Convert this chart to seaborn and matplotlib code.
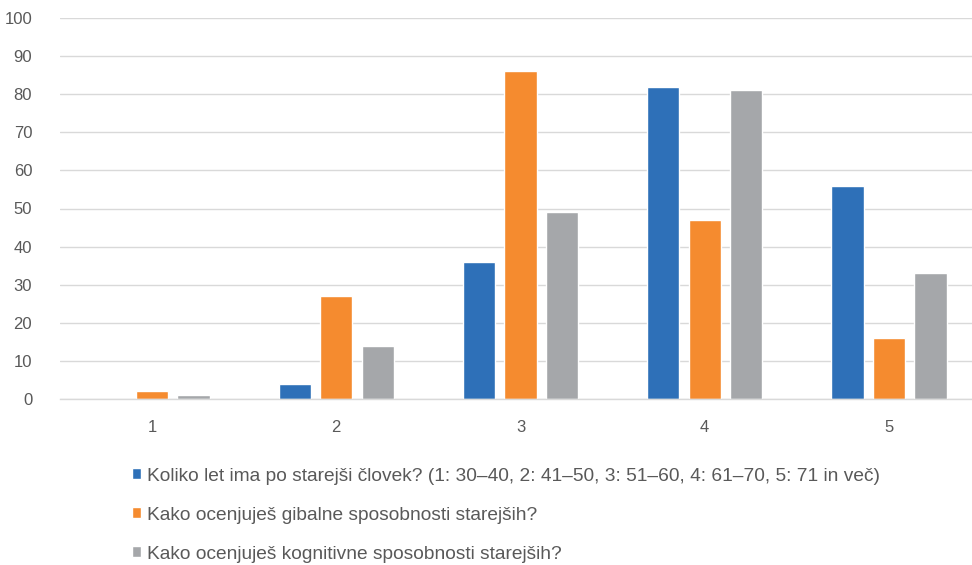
import matplotlib
matplotlib.use("Agg")
import matplotlib.pyplot as plt
import seaborn as sns
import pandas as pd

categories = ["1", "2", "3", "4", "5"]
series_names = [
    "Koliko let ima po starejši človek? (1: 30–40, 2: 41–50, 3: 51–60, 4: 61–70, 5: 71 in več)",
    "Kako ocenjuješ gibalne sposobnosti starejših?",
    "Kako ocenjuješ kognitivne sposobnosti starejših?",
]
age_values = [0, 4, 36, 82, 56]
motor_values = [2, 27, 86, 47, 16]
cognitive_values = [1, 14, 49, 81, 33]
colors = ["#2E70B8", "#F58B2F", "#A5A7AA"]

rows = []
for name, vals in zip(series_names, [age_values, motor_values, cognitive_values]):
    for c, v in zip(categories, vals):
        rows.append({"cat": c, "series": name, "value": v})
df = pd.DataFrame(rows)

sns.set_theme(style="white")
plt.rcParams["font.family"] = ["Liberation Sans", "DejaVu Sans"]

fig = plt.figure(figsize=(9.72, 5.65), dpi=100)
ax = fig.add_axes([60/972, 1-399/565, 921/972, 381/565])

sns.barplot(data=df, x="cat", y="value", hue="series", palette=colors,
            width=0.675, gap=0.22, ax=ax, legend=True, saturation=1)

ax.set_ylim(0, 100)
ax.set_xlim(-0.5, 4.5)
ax.set_yticks(range(0, 101, 10))
ax.yaxis.grid(True, color="#D9D9D9", linewidth=1)
ax.set_axisbelow(True)
for s in ["top", "right", "left"]:
    ax.spines[s].set_visible(False)
ax.spines["bottom"].set_color("#D9D9D9")
ax.spines["bottom"].set_linewidth(1)
ax.set_xlabel("")
ax.set_ylabel("")
ax.tick_params(axis="both", colors="#595959", labelsize=12, length=0)
ax.tick_params(axis="y", pad=20)
ax.tick_params(axis="x", pad=15)

handles, labels = ax.get_legend_handles_labels()
ax.get_legend().remove()
fig.legend(handles, labels, loc="upper left", bbox_to_anchor=(124/972, 1-460/565),
           frameon=False, fontsize=13.8, labelcolor="#595959", handlelength=0.5,
           handleheight=0.5, handletextpad=0.3, labelspacing=1.15, borderaxespad=0)

fig.savefig("out.png", dpi=100)
